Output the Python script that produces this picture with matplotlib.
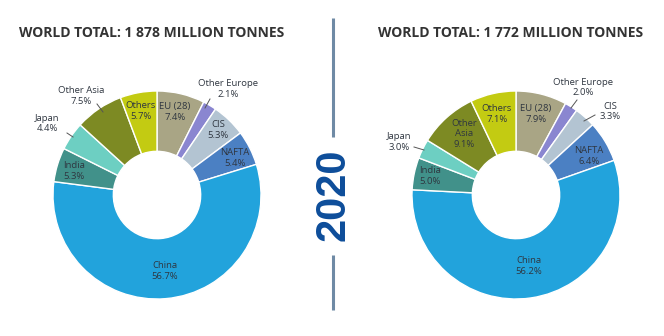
import matplotlib
matplotlib.use("Agg")
import matplotlib.pyplot as plt

# Regions, clockwise from 12 o'clock
regions = ["EU (28)", "Other Europe", "CIS", "NAFTA", "China",
           "India", "Japan", "Other Asia", "Others"]
share_left = [7.4, 2.1, 5.3, 5.4, 56.7, 5.3, 4.4, 7.5, 5.7]
share_right = [7.9, 2.0, 3.3, 6.4, 56.2, 5.0, 3.0, 9.1, 7.1]
total_left = "1 878"
total_right = "1 772"
year = "2020"

colors = ["#a9a585", "#8a86d0", "#b3c4d2", "#4b80c3", "#22a3dc",
          "#41918a", "#6dcfc2", "#7d8a23", "#c3cb12"]

W, H = 664, 336
fig = plt.figure(figsize=(W / 100, H / 100), dpi=100)
ax = fig.add_axes([0, 0, 1, 1])
ax.set_xlim(0, W)
ax.set_ylim(0, H)
ax.set_aspect("equal")
ax.axis("off")


def py(y):
    return H - y


radius = 104
text_color = "#2f3640"
label_font = dict(family="Open Sans", fontsize=6.8, color=text_color,
                  ha="center", va="center", linespacing=1.15)

# label placement (pixel coordinates, y downward)
layout_left = {
    "EU (28)": (175, 112), "Other Europe": (228, 89), "CIS": (218, 130),
    "NAFTA": (235, 158), "China": (165, 271), "India": (74, 171),
    "Japan": (47, 123.5), "Other Asia": (81, 96), "Others": (141, 111),
}
layout_right = {
    "EU (28)": (536, 114), "Other Europe": (583, 87.5), "CIS": (610, 111.5),
    "NAFTA": (589, 156), "China": (529, 266), "India": (430, 176),
    "Japan": (399, 142), "Other Asia": (464, 134), "Others": (497, 114),
}
leaders_left = [((97, 104), (103, 112)), ((67, 133), (73, 137)),
                ((210, 99), (205, 108))]
leaders_right = [((577, 100), (571, 108)), ((595, 115), (584, 121)),
                 ((414, 147), (424, 150))]

charts = [
    (157, share_left, total_left, layout_left, leaders_left, {}),
    (516, share_right, total_right, layout_right, leaders_right,
     {"Other Asia": "Other\nAsia"}),
]

for cx, shares, total, layout, leaders, rename in charts:
    ax.pie(shares, colors=colors, startangle=90, counterclock=False,
           center=(cx, py(195)), radius=radius, frame=True,
           wedgeprops=dict(width=radius * 0.58, edgecolor="white",
                           linewidth=1.0))
    for name, val in zip(regions, shares):
        x, y = layout[name]
        label = rename.get(name, name)
        ax.text(x, py(y), f"{label}\n{val:.1f}%", **label_font)
    for (x0, y0), (x1, y1) in leaders:
        ax.plot([x0, x1], [py(y0), py(y1)], color="#555555", lw=0.7)
    ax.text(cx - 5, py(33), f"WORLD TOTAL: {total} MILLION TONNES",
            family="Open Sans", fontweight="bold", fontsize=10,
            color="#333333", ha="center", va="center")

ax.set_xlim(0, W)
ax.set_ylim(0, H)
ax.axis("off")

# divider with year
line_color = "#6f8aa5"
ax.plot([333, 333], [py(18), py(137)], color=line_color, lw=2.2,
        solid_capstyle="butt")
ax.plot([333, 333], [py(255), py(310)], color=line_color, lw=2.2,
        solid_capstyle="butt")
ax.text(334, py(195), year, rotation=90, family="Liberation Sans",
        fontweight="bold", fontsize=30, color="#0d4d9a",
        ha="center", va="center")

fig.savefig("out.png", dpi=100)
